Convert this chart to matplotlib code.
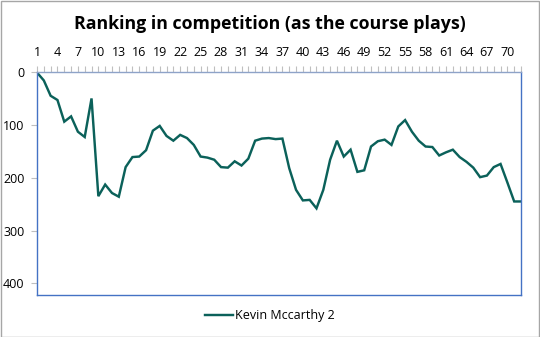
import matplotlib
matplotlib.use("Agg")
import matplotlib.pyplot as plt
from matplotlib.patches import Rectangle

rounds = list(range(1, 73))
ranking = [1, 16, 45, 53, 94, 84, 113, 123, 50, 235, 213, 229, 236, 180, 161, 160,
           148, 111, 102, 121, 130, 119, 125, 138, 160, 162, 166, 180, 181, 169, 177,
           164, 130, 126, 125, 127, 126, 182, 223, 243, 242, 258, 223, 166, 130, 160,
           147, 189, 186, 141, 131, 128, 138, 103, 91, 113, 130, 141, 142, 158, 152,
           147, 161, 170, 181, 199, 196, 180, 174, 209, 245, 245]
series_name = "Kevin Mccarthy 2"
title = "Ranking in competition (as the course plays)"
y_ticks = [0, 100, 200, 300, 400]
x_labels = list(range(1, 73, 3))

plt.rcParams["font.family"] = ["Open Sans", "DejaVu Sans"]

fig = plt.figure(figsize=(5.40, 3.37), dpi=100)
ax = fig.add_axes([37 / 540, 1 - 295 / 337, 484 / 540, 223 / 337])

line_color = "#0B615A"
ax.plot(rounds, ranking, color=line_color, lw=1.75, label=series_name,
        solid_joinstyle="miter")

ax.set_xlim(1, 72)
ax.set_ylim(422, 0)

spine_color = "#4472C4"
for s in ax.spines.values():
    s.set_color(spine_color)
    s.set_linewidth(1.0)
ax.spines["top"].set_color("#8EA3C8")

ax.xaxis.tick_top()
ax.set_xticks(x_labels)
ax.set_xticklabels([str(v) for v in x_labels])
ax.set_xticks(rounds, minor=True)
ax.tick_params(axis="x", which="both", direction="out", length=4, width=0.8,
               color="#BFBFBF", labelsize=9, labelcolor="#000000", pad=5)
ax.set_yticks(y_ticks)
ax.tick_params(axis="y", direction="out", length=4, width=0.8, color="#BFBFBF",
               labelsize=9, labelcolor="#000000", pad=5)

fig.text(0.5, 1 - 24 / 337, title, ha="center", va="center",
         fontsize=12.8, fontweight="bold", color="#000000")

fig.legend(loc="center", bbox_to_anchor=(0.5, 1 - 316 / 337), frameon=False,
           fontsize=9, handlelength=2.2, handletextpad=0.15)

fig.patches.append(Rectangle((0.5 / 540, 0.5 / 337), 538.5 / 540, 335.5 / 337,
                             transform=fig.transFigure, fill=False,
                             edgecolor="#A6A6A6", lw=1.0))

fig.savefig("out.png", dpi=100)
